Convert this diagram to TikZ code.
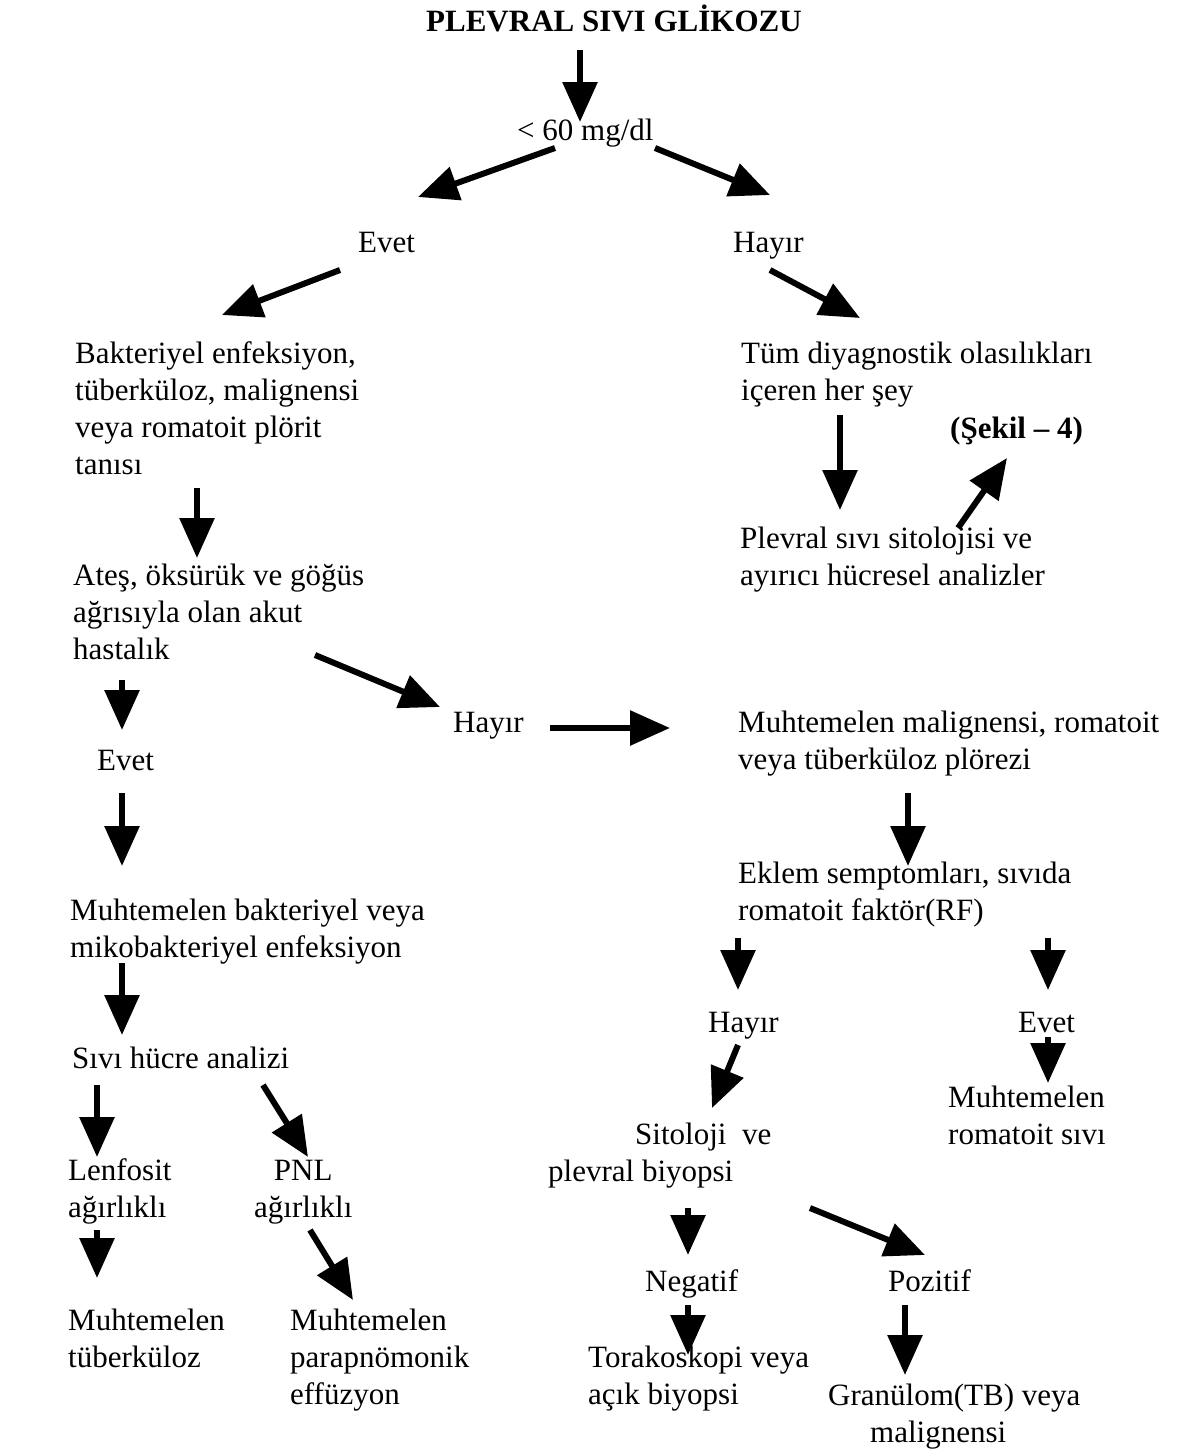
\documentclass[tikz,border=0pt]{standalone}
\usepackage{fontspec}
\setmainfont{Liberation Serif}
\usetikzlibrary{arrows.meta}
\newcommand\tf{\fontsize{31}{37}\selectfont}
\newcommand\fl{\rule{0pt}{30pt}}
\newcommand\arw[5]{\coordinate (#1s) at (#2,#3); \coordinate (#1e) at (#4,#5); \draw[arr] (#1s) -- (#1e);}
\tikzset{
  arr/.style={line width=6pt, -{Triangle[length=40pt,width=34pt]}},
  txt/.style={inner sep=0pt, anchor=north west, align=left, font=\tf},
  btxt/.style={txt, font=\tf\bfseries},
}
\begin{document}
\begin{tikzpicture}[x=1pt,y=-1pt]
\useasboundingbox (0,0) rectangle (1184,1454);
% texts
\node[btxt] (title) at (426,1) {\fl PLEVRAL SIVI GLİKOZU};
\node[txt] (lt60) at (517,110) {\fl< 60 mg/dl};
\node[txt] (evet1) at (358,222) {\fl Evet};
\node[txt] (hayir1) at (733,222) {\fl Hayır};
\node[txt] (bakt) at (75,333) {\fl Bakteriyel enfeksiyon,\\ tüberküloz, malignensi\\ veya romatoit plörit\\ tanısı};
\node[txt] (tum) at (741,333) {\fl Tüm diyagnostik olasılıkları\\ içeren her şey};
\node[btxt] (sekil) at (950,408) {\fl(Şekil – 4)};
\node[txt] (plev) at (740,518) {\fl Plevral sıvı sitolojisi ve\\ ayırıcı hücresel analizler};
\node[txt] (ates) at (73,555) {\fl Ateş, öksürük ve göğüs\\ ağrısıyla olan akut\\ hastalık};
\node[txt] (hayir2) at (453,702) {\fl Hayır};
\node[txt] (muhmal) at (738,702) {\fl Muhtemelen malignensi, romatoit\\ veya tüberküloz plörezi};
\node[txt] (evet2) at (97,740) {\fl Evet};
\node[txt] (muhbak) at (70,890) {\fl Muhtemelen bakteriyel veya\\ mikobakteriyel enfeksiyon};
\node[txt] (eklem) at (738,853) {\fl Eklem semptomları, sıvıda\\ romatoit faktör(RF)};
\node[txt] (hayir3) at (708,1002) {\fl Hayır};
\node[txt] (evet3) at (1018,1002) {\fl Evet};
\node[txt] (sivi) at (72,1038) {\fl Sıvı hücre analizi};
\node[txt] (muhrom) at (948,1077) {\fl Muhtemelen\\ romatoit sıvı};
\node[txt] (sito) at (548,1114) {\fl\hspace*{87pt}Sitoloji\ \ ve\\ plevral biyopsi};
\node[txt] (lenf) at (68,1150) {\fl Lenfosit\\ ağırlıklı};
\node[txt, align=center] (pnl) at (254,1150) {\fl PNL\\ ağırlıklı};
\node[txt] (neg) at (645,1261) {\fl Negatif};
\node[txt] (poz) at (888,1261) {\fl Pozitif};
\node[txt] (muhtub) at (68,1300) {\fl Muhtemelen\\ tüberküloz};
\node[txt] (muhpara) at (290,1300) {\fl Muhtemelen\\ parapnömonik\\ effüzyon};
\node[txt] (torak) at (588,1337) {\fl Torakoskopi veya\\ açık biyopsi};
\node[txt] (granul) at (828,1375) {\fl Granülom(TB) veya\\ \hspace*{42pt}malignensi};
% arrows
\arw{a1}{580}{50}{580}{122}
\arw{a2}{555}{148}{418}{197}
\arw{a3}{655}{148}{770}{195}
\arw{a4}{340}{270}{222}{315}
\arw{a5}{770}{270}{860}{318}
\arw{a6}{840}{415}{840}{510}
\arw{a7}{958}{528}{1007}{458}
\arw{a8}{197}{488}{197}{558}
\arw{a9}{315}{655}{440}{707}
\arw{a10}{122}{680}{122}{730}
\arw{a11}{550}{728}{670}{728}
\arw{a12}{122}{793}{122}{866}
\arw{a13}{908}{793}{908}{866}
\arw{a14}{122}{963}{122}{1035}
\arw{a15}{738}{938}{738}{990}
\arw{a16}{1048}{938}{1048}{990}
\arw{a17}{1048}{1037}{1048}{1083}
\arw{a18}{738}{1045}{712}{1108}
\arw{a19}{97}{1085}{97}{1157}
\arw{a20}{263}{1085}{308}{1157}
\arw{a21}{97}{1230}{97}{1278}
\arw{a22}{310}{1230}{353}{1300}
\arw{a23}{688}{1208}{688}{1255}
\arw{a24}{810}{1208}{925}{1255}
\arw{a25}{688}{1305}{688}{1355}
\arw{a26}{905}{1305}{905}{1375}
\end{tikzpicture}
\end{document}
